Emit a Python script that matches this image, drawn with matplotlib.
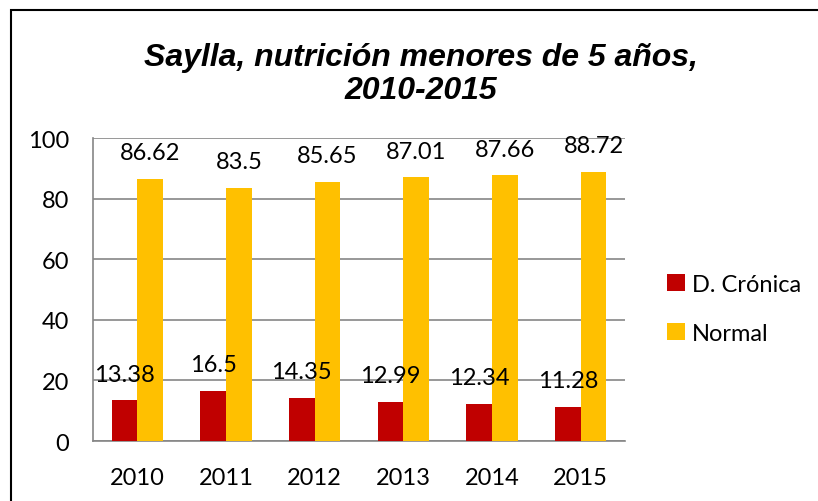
import matplotlib
matplotlib.use("Agg")
import matplotlib.pyplot as plt
import numpy as np
from matplotlib.patches import Rectangle

years = ['2010', '2011', '2012', '2013', '2014', '2015']
cronica = [13.38, 16.5, 14.35, 12.99, 12.34, 11.28]
normal = [86.62, 83.5, 85.65, 87.01, 87.66, 88.72]

plt.rcParams['font.family'] = ['Lato', 'DejaVu Sans']

fig = plt.figure(figsize=(8.18, 5.02), dpi=100)
ax = fig.add_axes([0.1137, 0.1195, 0.6503, 0.6035])

x = np.arange(len(years))
w = 0.29
b1 = ax.bar(x - w/2, cronica, w, color='#C00000', label='D. Crónica', zorder=3)
b2 = ax.bar(x + w/2, normal, w, color='#FFC000', label='Normal', zorder=3)

for bars, vals in ((b1, cronica), (b2, normal)):
    for r, v in zip(bars, vals):
        ax.annotate(f'{v:g}', (r.get_x() + r.get_width()/2, v),
                    xytext=(0, 19), textcoords='offset points',
                    ha='center', va='center', fontsize=17, zorder=4)

ax.set_xlim(-0.5, 5.5)
ax.set_ylim(0, 100)
ax.set_yticks(range(0, 101, 20))
ax.set_xticks(x)
ax.set_xticklabels(years)
ax.tick_params(axis='both', length=0, labelsize=17)
ax.tick_params(axis='x', pad=19)
ax.tick_params(axis='y', pad=17)
ax.yaxis.grid(True, color='#868686', linewidth=1.2, zorder=0)
for s in ['top', 'right']:
    ax.spines[s].set_visible(False)
for s in ['left', 'bottom']:
    ax.spines[s].set_color('#868686')
    ax.spines[s].set_linewidth(1.2)

fig.text(0.514, 0.884, 'Saylla, nutrición menores de 5 años,',
         ha='center', va='center', fontsize=23, fontweight='bold',
         fontstyle='italic', family='Liberation Sans')
fig.text(0.514, 0.819, '2010-2015',
         ha='center', va='center', fontsize=23, fontweight='bold',
         fontstyle='italic', family='Liberation Sans')

fig.legend(handles=[b1, b2], loc='center left', bbox_to_anchor=(0.79, 0.383),
           frameon=False, fontsize=17, handlelength=0.75, handleheight=0.75,
           handletextpad=0.3, labelspacing=1.2)

fig.patches.append(Rectangle((11/818, -0.1), 1.2, 1 - 11/502 + 0.1,
                             transform=fig.transFigure, fill=False,
                             edgecolor='black', linewidth=1.5))

fig.savefig('out.png', dpi=100)
